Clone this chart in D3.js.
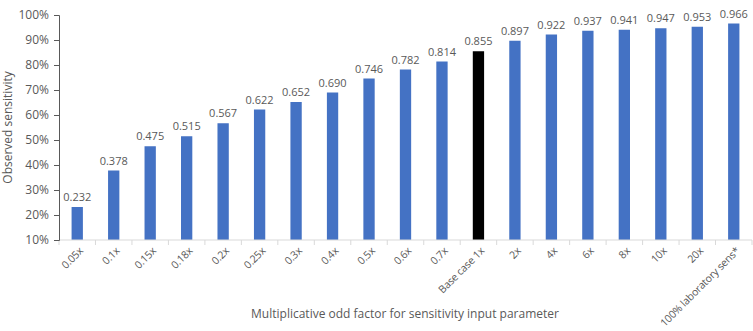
<!DOCTYPE html>
<html>
<head>
<meta charset="utf-8">
<script src="https://cdn.jsdelivr.net/npm/d3@7"></script>
<style>
  body { margin: 0; background: #fff; }
  svg text { font-family: "Open Sans", "Liberation Sans", sans-serif; fill: #595959; }
</style>
</head>
<body>
<svg id="chart" width="753" height="331"></svg>
<script>
const categories = ['0.05x', '0.1x', '0.15x', '0.18x', '0.2x', '0.25x', '0.3x', '0.4x', '0.5x', '0.6x',
    '0.7x', 'Base case 1x', '2x', '4x', '6x', '8x', '10x', '20x', '100% laboratory sens*'];
const values = [0.232, 0.378, 0.475, 0.515, 0.567, 0.622, 0.652, 0.690, 0.746, 0.782,
    0.814, 0.855, 0.897, 0.922, 0.937, 0.941, 0.947, 0.953, 0.966];
const highlight = 'Base case 1x';
const yTicks = [0.1, 0.2, 0.3, 0.4, 0.5, 0.6, 0.7, 0.8, 0.9, 1.0];

const data = categories.map((c, i) => ({ c, v: values[i] }));

const m = { left: 59, right: 1, top: 15, bottom: 91 };
const W = 753 - m.left - m.right;
const H = 331 - m.top - m.bottom;

const svg = d3.select('#chart');
const g = svg.append('g').attr('transform', `translate(${m.left},${m.top})`);

const x = d3.scaleBand().domain(categories).range([0, W]).paddingInner(0.69).paddingOuter(0.345);
const y = d3.scaleLinear().domain([0.1, 1]).range([H, 0]);

// bars
g.selectAll('.bar')
    .data(data)
    .join('rect')
    .attr('class', 'bar')
    .attr('x', d => x(d.c))
    .attr('y', d => y(d.v))
    .attr('width', x.bandwidth())
    .attr('height', d => H - y(d.v))
    .attr('fill', d => d.c === highlight ? '#000000' : '#4472C4');

// value labels
g.selectAll('.vl')
    .data(data)
    .join('text')
    .attr('class', 'vl')
    .attr('x', d => x(d.c) + x.bandwidth() / 2)
    .attr('y', d => y(d.v) - 6)
    .attr('text-anchor', 'middle')
    .attr('font-size', 11)
    .text(d => d.v.toFixed(3));

// x axis: ticks between categories
const step = x.step();
const xAxis = g.append('g').attr('transform', `translate(0,${H})`);
xAxis.append('line').attr('x1', 0).attr('x2', W).attr('stroke', '#d9d9d9');
xAxis.selectAll('.xt')
    .data(d3.range(categories.length + 1))
    .join('line')
    .attr('class', 'xt')
    .attr('x1', i => i * step).attr('x2', i => i * step)
    .attr('y1', 0).attr('y2', 5)
    .attr('stroke', '#d9d9d9');
xAxis.selectAll('.xl')
    .data(categories)
    .join('text')
    .attr('class', 'xl')
    .attr('transform', d => `translate(${x(d) + x.bandwidth() / 2 + 4},${9}) rotate(-45)`)
    .attr('text-anchor', 'end')
    .attr('dy', '0.35em')
    .attr('font-size', 10.5)
    .attr('letter-spacing', -0.2)
    .text(d => d);

// y axis
const yAxis = g.append('g')
    .call(d3.axisLeft(y).tickValues(yTicks).tickFormat(d3.format('.0%')).tickSizeOuter(0).tickSize(5).tickPadding(5));
yAxis.select('.domain').attr('stroke', '#595959');
yAxis.selectAll('.tick line').attr('stroke', '#595959');
yAxis.selectAll('.tick text').attr('font-size', 12).attr('fill', '#595959')
    .style('font-family', '"Open Sans", "Liberation Sans", sans-serif');

// axis titles
svg.append('text')
    .attr('transform', `translate(12,${m.top + H / 2}) rotate(-90)`)
    .attr('text-anchor', 'middle')
    .attr('font-size', 12)
    .text('Observed sensitivity');

svg.append('text')
    .attr('x', 405)
    .attr('y', 318)
    .attr('text-anchor', 'middle')
    .attr('font-size', 12)
    .text('Multiplicative odd factor for sensitivity input parameter');
</script>
</body>
</html>
